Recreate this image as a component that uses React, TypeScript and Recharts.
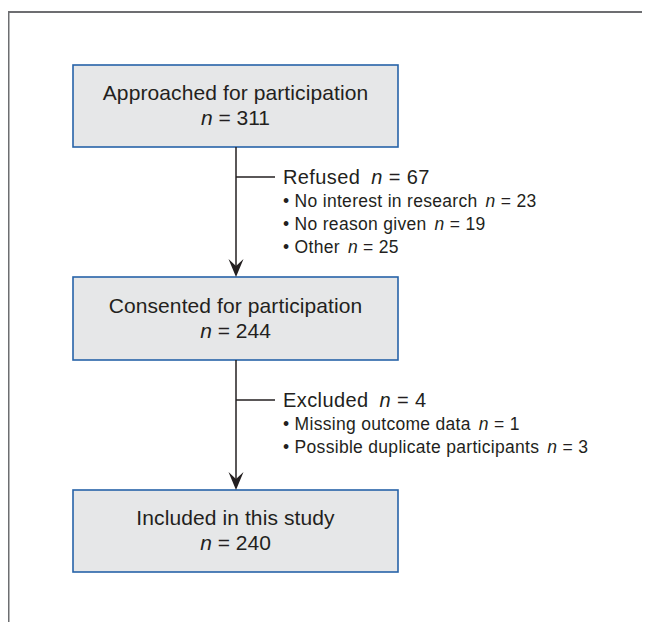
import React from 'react';
import { ScatterChart, Scatter, XAxis, YAxis, ReferenceArea, ReferenceLine } from 'recharts';

// flow stages, top to bottom
const stageLabels = ['Approached for participation', 'Consented for participation', 'Included in this study'];
const stageCounts = [311, 244, 240];

// drop-outs between stages
const dropLabels = ['Refused', 'Excluded'];
const dropCounts = [67, 4];
const refusedReasons = ['No interest in research', 'No reason given', 'Other'];
const refusedCounts = [23, 19, 25];
const excludedReasons = ['Missing outcome data', 'Possible duplicate participants'];
const excludedCounts = [1, 3];

// layout (chart units equal page pixels)
const W = 650;
const H = 622;
const BOX_LEFT = 73;
const BOX_RIGHT = 398;
const BOX_ROWS: [number, number][] = [[65, 147], [277, 360], [490, 572]];
const SPINE_X = 236;
const BRANCH_Y = [177, 400];
const BRANCH_END_X = 275;

const FONT = '"Liberation Sans", Arial, Helvetica, sans-serif';
const TEXT = '#231f20';
const LINE = '#231f20';
const BORDER = '#2763a8';
const FILL = '#e6e7e8';

const nodes = stageLabels.map((label, i) => ({
  label,
  n: stageCounts[i],
  top: BOX_ROWS[i][0],
  bottom: BOX_ROWS[i][1],
}));

const drops = dropLabels.map((label, i) => ({
  label,
  n: dropCounts[i],
  reasons: (i === 0 ? refusedReasons : excludedReasons).map((r, j) => ({
    label: r,
    n: (i === 0 ? refusedCounts : excludedCounts)[j],
  })),
  y: BRANCH_Y[i],
}));

const NCount = ({ n }: { n: number }) => (
  <>
    <tspan fontStyle="italic">n</tspan>
    <tspan> = {n}</tspan>
  </>
);

const boxShape = (label: string, n: number) => (props: any) => {
  const { x, y, width, height } = props;
  const cx = x + width / 2;
  const cy = y + height / 2;
  return (
    <g>
      <rect x={x} y={y} width={width} height={height} fill={FILL} stroke={BORDER} strokeWidth={1.6} />
      <text x={cx} y={cy - 6} textAnchor="middle" fontFamily={FONT} fontSize={21} letterSpacing={0.1} fill={TEXT}>
        {label}
      </text>
      <text x={cx} y={cy + 19} textAnchor="middle" fontFamily={FONT} fontSize={21} fill={TEXT}>
        <NCount n={n} />
      </text>
    </g>
  );
};

const arrowShape = (props: any) => {
  const { x1, y1, x2, y2 } = props;
  const top = Math.min(y1, y2);
  const tip = Math.max(y1, y2);
  return (
    <g>
      <line x1={x1} y1={top} x2={x2} y2={tip - 8} stroke={LINE} strokeWidth={1.5} />
      <polygon
        points={`${x2},${tip} ${x2 - 7.5},${tip - 18} ${x2},${tip - 11} ${x2 + 7.5},${tip - 18}`}
        fill={LINE}
      />
    </g>
  );
};

const branchShape = (d: (typeof drops)[number]) => (props: any) => {
  const { x1, y1, x2 } = props;
  const tx = Math.max(x1, x2) + 8;
  return (
    <g fontFamily={FONT} fill={TEXT}>
      <line x1={x1} y1={y1} x2={x2} y2={y1} stroke={LINE} strokeWidth={1.5} />
      <text x={tx} y={y1 + 7} fontSize={20} letterSpacing={0.4}>
        {d.label}
        <tspan dx={11} fontStyle="italic">n</tspan>
        <tspan> = {d.n}</tspan>
      </text>
      {d.reasons.map((r, i) => (
        <text key={r.label} x={tx} y={y1 + 30 + i * 23} fontSize={17.5} letterSpacing={0.3}>
          {'\u2022 '}{r.label}
          <tspan dx={8} fontStyle="italic">n</tspan>
          <tspan> = {r.n}</tspan>
        </text>
      ))}
    </g>
  );
};

export default function App() {
  return (
    <ScatterChart width={W - 8} height={H - 8} margin={{ top: 0, right: 0, bottom: 0, left: 0 }}>
      <XAxis type="number" dataKey="x" domain={[8, W]} hide allowDataOverflow />
      <YAxis type="number" dataKey="y" domain={[8, H]} reversed hide allowDataOverflow />
      <Scatter data={[]} isAnimationActive={false} />

      {/* outer frame */}
      <ReferenceLine
        segment={[{ x: 8, y: 12 }, { x: W, y: 12 }]}
        stroke="#6d6e71"
        strokeWidth={2}
        ifOverflow="visible"
      />
      <ReferenceLine
        segment={[{ x: 8.5, y: 12 }, { x: 8.5, y: H }]}
        stroke="#6d6e71"
        strokeWidth={2}
        ifOverflow="visible"
      />

      {nodes.slice(0, -1).map((node, i) => (
        <ReferenceLine
          key={`arrow-${i}`}
          segment={[{ x: SPINE_X, y: node.bottom }, { x: SPINE_X, y: nodes[i + 1].top }]}
          shape={arrowShape}
          ifOverflow="visible"
        />
      ))}

      {drops.map((d) => (
        <ReferenceLine
          key={d.label}
          segment={[{ x: SPINE_X, y: d.y }, { x: BRANCH_END_X, y: d.y }]}
          shape={branchShape(d)}
          ifOverflow="visible"
        />
      ))}

      {nodes.map((node) => (
        <ReferenceArea
          key={node.label}
          x1={BOX_LEFT}
          x2={BOX_RIGHT}
          y1={node.top}
          y2={node.bottom}
          shape={boxShape(node.label, node.n)}
          ifOverflow="visible"
        />
      ))}
    </ScatterChart>
  );
}
